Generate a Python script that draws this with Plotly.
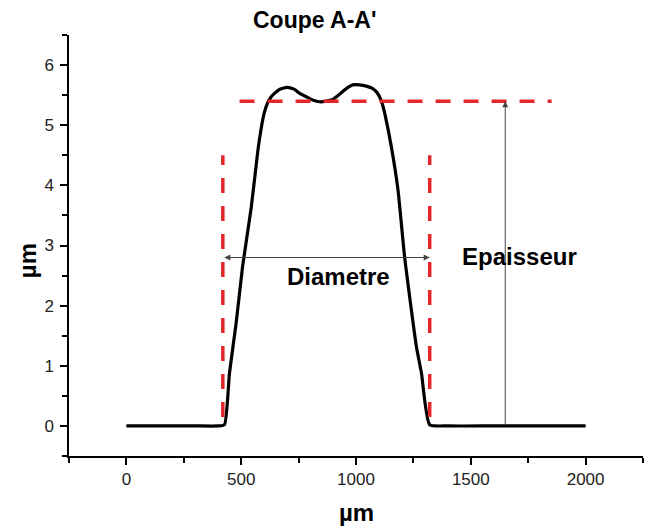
import plotly.graph_objects as go

# profile (x in um, height in um)
profile_x = [0, 100, 200, 300, 400, 427, 449, 478, 506, 544, 573, 585, 600, 615, 630, 645,
             665, 699, 730, 755, 785, 811, 842, 870, 899, 920, 942, 965, 986, 1015, 1045,
             1073, 1090, 1103, 1115, 1125, 1154, 1183, 1212, 1263, 1285, 1321, 1400, 1600,
             1800, 2000]
profile_y = [0, 0, 0, 0, 0, 0.02, 0.88, 1.71, 2.65, 3.64, 4.59, 4.9, 5.2, 5.37, 5.47, 5.53,
             5.59, 5.63, 5.6, 5.53, 5.47, 5.42, 5.39, 5.4, 5.43, 5.49, 5.56, 5.63, 5.67, 5.67,
             5.65, 5.61, 5.55, 5.47, 5.35, 5.2, 4.64, 3.92, 2.8, 1.32, 0.88, 0.02, 0, 0,
             0, 0]

# construction lines
edge_left = 420
edge_right = 1321
edge_bottom, edge_top = 0.15, 4.5
thickness = 5.4
thickness_x0, thickness_x1 = 493, 1852
diam_y = 2.8
arrow_x = 1650

RED = '#e3262b'
FONT = 'Liberation Sans, Arial, sans-serif'

fig = go.Figure()
fig.add_trace(go.Scatter(x=profile_x, y=profile_y, mode='lines',
                         line=dict(color='black', width=3.2, shape='spline', smoothing=0.5),
                         showlegend=False))
red_dash = dict(color=RED, width=3.5, dash='15px,13px')
fig.add_trace(go.Scatter(x=[edge_left, edge_left], y=[edge_bottom, edge_top], mode='lines',
                         line=red_dash, showlegend=False))
fig.add_trace(go.Scatter(x=[edge_right, edge_right], y=[edge_bottom, edge_top], mode='lines',
                         line=red_dash, showlegend=False))
fig.add_trace(go.Scatter(x=[thickness_x0, thickness_x1], y=[thickness, thickness], mode='lines',
                         line=red_dash, showlegend=False))

# diameter arrow (both ends)
fig.add_annotation(x=edge_right, y=diam_y, ax=edge_left, ay=diam_y,
                   xref='x', yref='y', axref='x', ayref='y', text='',
                   showarrow=True, arrowhead=2, startarrowhead=2, arrowside='end+start',
                   arrowsize=1.2, startarrowsize=1.2, arrowwidth=1, arrowcolor='#444')
# thickness arrow
fig.add_annotation(x=arrow_x, y=thickness, ax=arrow_x, ay=0,
                   xref='x', yref='y', axref='x', ayref='y', text='',
                   showarrow=True, arrowhead=2, arrowsize=1.2, arrowwidth=1, arrowcolor='#444')

bold = dict(family=FONT, size=24, color='black', weight='bold')
centered = dict(showarrow=False, xanchor='center', yanchor='middle')
fig.add_annotation(x=925, y=2.48, text='Diametre', font=bold, **centered)
fig.add_annotation(x=1710, y=2.81, text='Epaisseur', font=bold, **centered)
fig.add_annotation(x=0.427, y=1.036, xref='paper', yref='paper', text="Coupe A-A'",
                   font=dict(family=FONT, size=23, color='black', weight='bold'), **centered)
fig.add_annotation(x=0.5, y=-0.135, xref='paper', yref='paper', text='µm',
                   font=bold, **centered)
fig.add_annotation(x=-0.073, y=0.463, xref='paper', yref='paper', text='µm', textangle=-90,
                   font=bold, **centered)

axis = dict(showgrid=False, zeroline=False, showline=True, linecolor='black', linewidth=1.5,
            ticks='outside', ticklen=7, tickwidth=1.5, tickcolor='black',
            tickfont=dict(family=FONT, size=17, color='#222'))
fig.update_xaxes(range=[-250, 2250], tickvals=[0, 500, 1000, 1500, 2000],
                 minor=dict(dtick=250, tick0=-250, ticks='outside', ticklen=5,
                            tickwidth=1.5, tickcolor='black'),
                 **axis)
fig.update_yaxes(range=[-0.5, 6.5], tickvals=[0, 1, 2, 3, 4, 5, 6], ticklabelstandoff=3,
                 minor=dict(dtick=0.5, tick0=-0.5, ticks='outside', ticklen=5,
                            tickwidth=1.5, tickcolor='black'),
                 **axis)
fig.update_layout(width=653, height=529, plot_bgcolor='white', paper_bgcolor='white',
                  margin=dict(l=69, r=10, t=35, b=73))

# drop the default page margin so the figure sits at the window's corner
fig.write_html('out.html', config={'displayModeBar': False},
               post_script="document.body.style.margin='0';")
